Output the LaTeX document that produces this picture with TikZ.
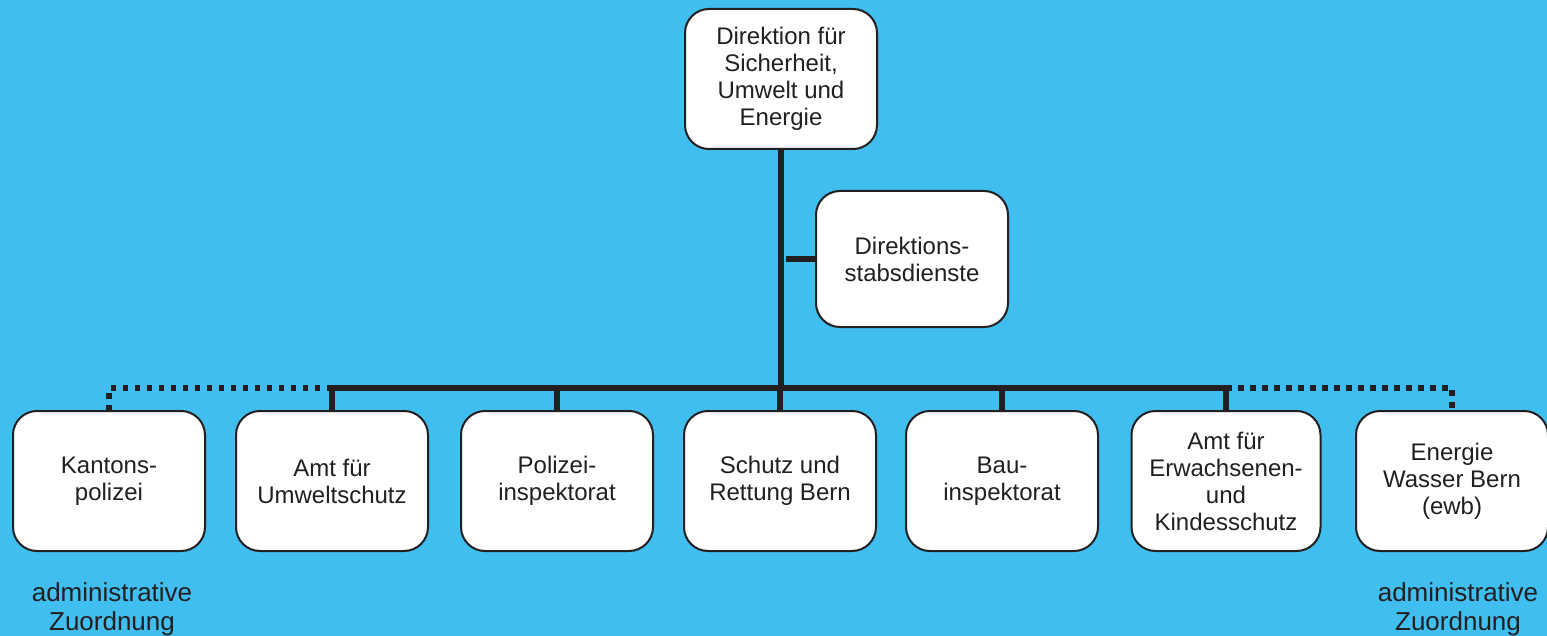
\documentclass[tikz,border=0pt]{standalone}
\usepackage{fontspec}
\setmainfont{Liberation Sans}
\definecolor{skyblue}{RGB}{65,190,240}
\definecolor{ink}{RGB}{35,31,32}
\begin{document}
\begin{tikzpicture}[x=1pt,y=-1pt,
    unit/.style={draw=ink,line width=2pt,fill=white,rounded corners=24pt,minimum width=192pt,minimum height=140pt,inner sep=0pt,align=center,text=ink,font=\fontsize{24}{27}\selectfont},
    trunk/.style={draw=ink,line width=5.5pt},
    dots/.style={draw=ink,line width=5.5pt,dash pattern=on 5.5pt off 6.5pt},
    note/.style={align=center,text=ink,font=\fontsize{26}{29}\selectfont}]
    \fill[skyblue] (0,0) rectangle (1547,636);
    \useasboundingbox (0,0) rectangle (1547,636);
    \node[unit] (dir) at (781,79) {Direktion für\\Sicherheit,\\Umwelt und\\Energie};
    \node[unit,minimum height=136pt] (stab) at (912,259) {Direktions-\\stabsdienste};
    \node[unit] (kapo) at (109,481) {Kantons-\\polizei};
    \node[unit] (umwelt) at (332,481) {Amt für\\Umweltschutz};
    \node[unit] (polizei) at (557,481) {Polizei-\\inspektorat};
    \node[unit] (schutz) at (780,481) {Schutz und\\Rettung Bern};
    \node[unit] (bau) at (1002,481) {Bau-\\inspektorat};
    \node[unit,minimum width=189pt] (ek) at (1226,481) {Amt für\\Erwachsenen-\\und\\Kindesschutz};
    \node[unit] (ewb) at (1452,481) {Energie\\Wasser Bern\\(ewb)};
    \node[note] (notel) at (112,609) {administrative\\Zuordnung};
    \node[note] (noter) at (1458,609) {administrative\\Zuordnung};
    \coordinate (bus) at (781,388);
    \coordinate (stabend) at (786,261);
    \draw[trunk] (dir.south) -- (bus);
    \draw[trunk] (stab.west -| stabend) -- (stab.west);
    \draw[trunk] (umwelt.north) |- (bus) -| (ek.north);
    \foreach \n in {polizei,schutz,bau}
      \draw[trunk] (\n.north) -- (\n.north |- bus);
    % dotted = administrative Zuordnung
    \draw[dots] (umwelt.north |- bus) -| (kapo.north);
    \draw[dots] (ek.north |- bus) -| (ewb.north);
  \end{tikzpicture}
\end{document}
